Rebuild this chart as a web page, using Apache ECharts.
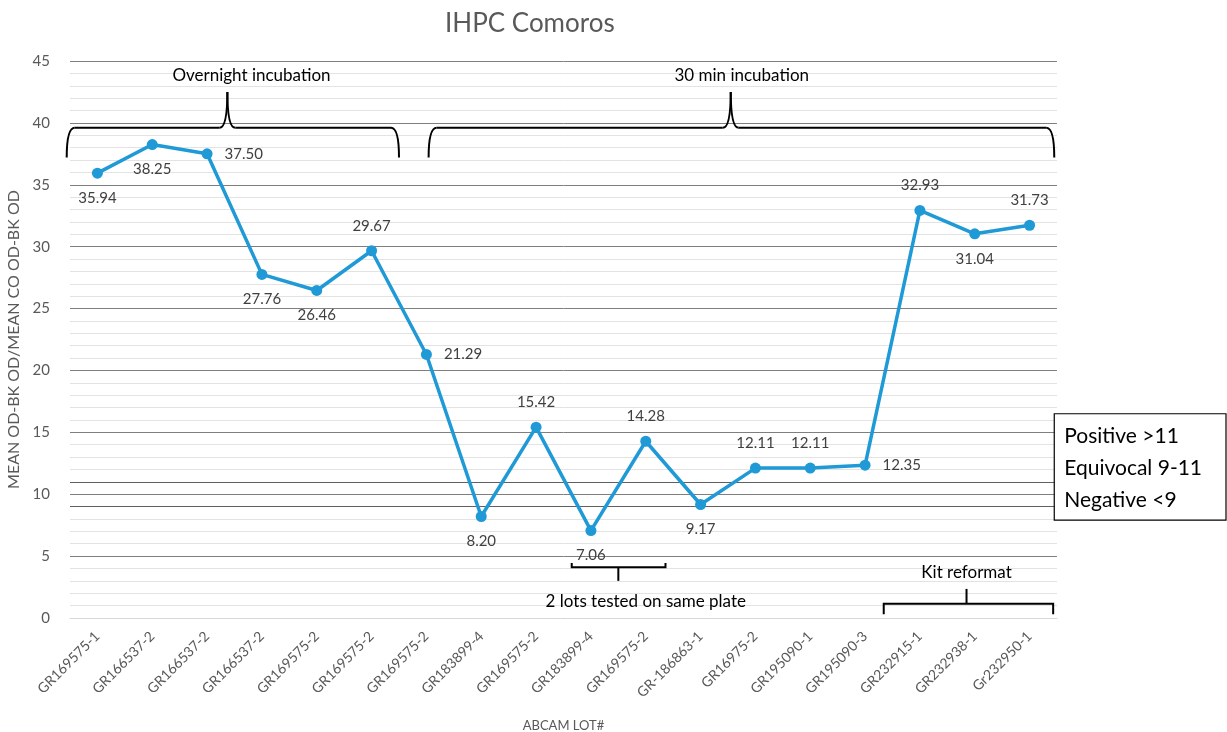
<!DOCTYPE html>
<html>
<head>
<meta charset="utf-8">
<script src="https://cdn.jsdelivr.net/npm/echarts@6/dist/echarts.min.js"></script>
<style>
  html, body { margin: 0; padding: 0; background: #fff; }
  #main { width: 1227px; height: 732px; }
</style>
</head>
<body>
<div id="main"></div>
<script>
// lot numbers on the x axis
var lots = ['GR169575-1', 'GR166537-2', 'GR166537-2', 'GR166537-2', 'GR169575-2', 'GR169575-2',
  'GR169575-2', 'GR183899-4', 'GR169575-2', 'GR183899-4', 'GR169575-2', 'GR-186863-1',
  'GR16975-2', 'GR195090-1', 'GR195090-3', 'GR232915-1', 'GR232938-1', 'Gr232950-1'];
// mean OD ratio per lot
var ratios = [35.94, 38.25, 37.50, 27.76, 26.46, 29.67, 21.29, 8.20, 15.42, 7.06, 14.28, 9.17,
  12.11, 12.11, 12.35, 32.93, 31.04, 31.73];
// where each value label sits
var labelPos = ['bottom', 'bottom', 'right', 'bottom', 'bottom', 'top', 'right', 'bottom', 'top',
  'bottom', 'top', 'bottom', 'top', 'top', 'right', 'top', 'bottom', 'top'];
// cut-offs
var positiveCut = 11;
var negativeCut = 9;
var legendLines = ['Positive >11', 'Equivocal 9-11', 'Negative <9'];

var font = 'Lato, "Open Sans", sans-serif';
var grey = '#595959';

var chart = echarts.init(document.getElementById('main'));

var option = {
  animation: false,
  title: {
    text: 'IHPC Comoros',
    left: 440,
    top: 6,
    textStyle: { fontFamily: font, fontSize: 26, fontWeight: 'normal', color: grey }
  },
  grid: { left: 70, right: 170, top: 61, bottom: 114, outerBoundsMode: 'none', containLabel: false },
  xAxis: {
    type: 'category',
    data: lots,
    boundaryGap: true,
    name: 'ABCAM LOT#',
    nameLocation: 'middle',
    nameGap: 101,
    nameTextStyle: { fontFamily: font, fontSize: 13, color: grey },
    axisLine: { lineStyle: { color: '#d9d9d9' } },
    axisTick: { show: false },
    axisLabel: { rotate: 45, fontFamily: font, fontSize: 14, color: grey, margin: 16 }
  },
  yAxis: {
    type: 'value',
    min: 0,
    max: 45,
    interval: 5,
    name: 'MEAN OD-BK OD/MEAN CO OD-BK OD',
    nameLocation: 'middle',
    nameGap: 44,
    nameTextStyle: { fontFamily: font, fontSize: 16, color: grey },
    axisLine: { show: false },
    axisTick: { show: false },
    axisLabel: { fontFamily: font, fontSize: 15, color: grey, margin: 20 },
    splitLine: { lineStyle: { color: '#7f7f7f', width: 1 } },
    minorTick: { show: false, splitNumber: 5 },
    minorSplitLine: { show: true, lineStyle: { color: '#e3e3e3', width: 1 } }
  },
  series: [{
    type: 'line',
    data: ratios.map(function (v, i) {
      return { value: v, label: { position: labelPos[i] } };
    }),
    symbol: 'circle',
    symbolSize: 11,
    lineStyle: { color: '#1f9ad6', width: 3.5 },
    itemStyle: { color: '#1f9ad6' },
    label: {
      show: true,
      distance: 12,
      fontFamily: font,
      fontSize: 15,
      color: '#404040',
      formatter: function (p) { return p.value.toFixed(2); }
    },
    markLine: {
      silent: true,
      symbol: 'none',
      label: { show: false },
      lineStyle: { color: '#606060', width: 1.2, type: 'solid' },
      data: [{ yAxis: positiveCut }, { yAxis: negativeCut }]
    },
    z: 5
  }]
};
chart.setOption(option);

// helpers to turn (category index, value) into pixels, fractional indices allowed
var p0 = chart.convertToPixel({ gridIndex: 0 }, [0, 0]);
var p1 = chart.convertToPixel({ gridIndex: 0 }, [1, 45]);
function px(i) { return p0[0] + (p1[0] - p0[0]) * i; }
function py(v) { return p0[1] + (p1[1] - p0[1]) * v / 45; }

var lineSt = { stroke: '#000', lineWidth: 2, fill: null };

function seg(xa, ya, xb, yb) {
  return { type: 'line', z: 10, shape: { x1: xa, y1: ya, x2: xb, y2: yb }, style: lineSt };
}
function curve(xa, ya, cx, cy, xb, yb) {
  return { type: 'bezierCurve', z: 10, shape: { x1: xa, y1: ya, cpx1: cx, cpy1: cy, x2: xb, y2: yb }, style: lineSt };
}

// curly brace opening downwards, tip pointing up
function braceUp(a, b, tip, yEnd, yH, yTip) {
  var xa = px(a), xb = px(b), xt = px(tip), ye = py(yEnd), yh = py(yH), yt = py(yTip);
  var r = 8;
  return [
    curve(xa, ye, xa, yh, xa + r, yh),
    seg(xa + r, yh, xt - r, yh),
    curve(xt - r, yh, xt, yh, xt, yt),
    curve(xt, yt, xt, yh, xt + r, yh),
    seg(xt + r, yh, xb - r, yh),
    curve(xb - r, yh, xb, yh, xb, ye)
  ];
}
// square bracket with a stem
function bracket(a, b, tip, yEnd, yH, yStem) {
  var xa = px(a), xb = px(b), xt = px(tip), ye = py(yEnd), yh = py(yH), ys = py(yStem);
  return [
    { type: 'polyline', z: 10, shape: { points: [[xa, ye], [xa, yh], [xb, yh], [xb, ye]] }, style: lineSt },
    seg(xt, yh, xt, ys)
  ];
}
function note(text, i, v, size) {
  return {
    type: 'text', x: px(i), y: py(v), z: 10,
    style: { text: text, fontFamily: font, fontSize: size || 17, fill: '#000', align: 'center', verticalAlign: 'middle' }
  };
}

var boxLeft = px(17.45), boxTop = py(16.5), boxBottom = py(7.9);
var graphics = [].concat(
  braceUp(-0.56, 5.5, 2.37, 37.2, 39.6, 42.5),
  [note('Overnight incubation', 2.81, 43.8)],
  braceUp(6.04, 17.45, 11.55, 37.2, 39.6, 42.5),
  [note('30 min incubation', 11.75, 43.8)],
  bracket(8.65, 10.36, 9.5, 4.45, 4.1, 3.0),
  [note('2 lots tested on same plate', 10.0, 1.3)],
  bracket(14.34, 17.43, 15.85, 0.3, 1.15, 2.35),
  [note('Kit reformat', 15.85, 3.7)],
  [{
    type: 'rect', z: 10,
    shape: { x: boxLeft, y: boxTop, width: 1226 - boxLeft, height: boxBottom - boxTop },
    style: { fill: '#fff', stroke: '#000', lineWidth: 1.2 }
  }]
);
legendLines.forEach(function (t, k) {
  graphics.push({
    type: 'text', z: 11, x: boxLeft + 10, y: boxTop + 22 + k * 32,
    style: { text: t, fontFamily: font, fontSize: 21, fill: '#000', verticalAlign: 'middle' }
  });
});
chart.setOption({ graphic: graphics });
</script>
</body>
</html>
